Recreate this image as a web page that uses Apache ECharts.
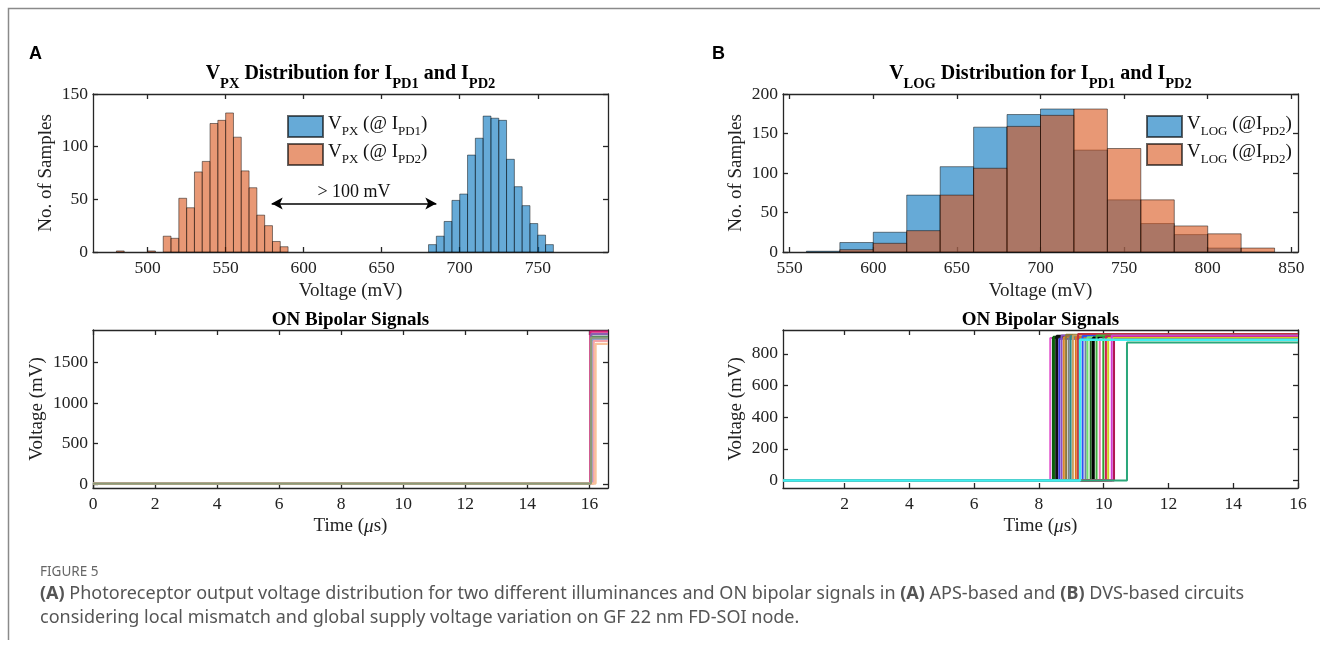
<!DOCTYPE html>
<html>
<head>
<meta charset="utf-8">
<title>Figure 5</title>
<script src="https://cdn.jsdelivr.net/npm/echarts@6/dist/echarts.min.js"></script>
<style>
  html, body { margin: 0; padding: 0; background: #fff; }
  #main { width: 1320px; height: 651px; }
</style>
</head>
<body>
<div id="main"></div>
<script>
// ---- A (top): V_PX histogram, 5 mV bins
var pxBinWidth = 5
var pxPd1Start = 680
var pxPd1Counts = [7, 15, 29, 49, 55, 92, 108, 129, 127, 125, 88, 62, 44, 27, 16, 7]
var pxPd2Start = 480
var pxPd2Counts = [1, 0, 0, 0, 1, 0, 15, 13, 51, 42, 76, 86, 122, 125, 132, 109, 77, 61, 35, 25, 10, 5]
var pxRange = [465, 795]
var pxTicks = [500, 550, 600, 650, 700, 750]
var pxCountTicks = [0, 50, 100, 150]
var gapArrow = [579.5, 685]
var gapLevel = 46

// ---- B (top): V_LOG histogram, 20 mV bins
var logBinWidth = 20
var logStart = 560
var logPd1Counts = [1, 12, 25, 72, 108, 158, 174, 181, 129, 66, 36, 22, 5, 0]
var logPd2Counts = [0, 3, 11, 27, 72, 106, 159, 173, 181, 131, 66, 33, 23, 5]
var logRange = [546, 854]
var logTicks = [550, 600, 650, 700, 750, 800, 850]
var logCountTicks = [0, 50, 100, 150, 200]

// ---- A (bottom): ON bipolar signals, APS
var apsTimeRange = [0, 16.6]
var apsVoltRange = [-45, 1900]
var apsLow = 10
var apsRise = [16.03, 16.06, 16.09, 16.11, 16.14, 16.2, 16.05]
var apsHigh = [1880, 1850, 1815, 1790, 1765, 1730, 1805]
var apsTimeTicks = [0, 2, 4, 6, 8, 10, 12, 14, 16]
var apsVoltTicks = [0, 500, 1000, 1500]

// ---- B (bottom): ON bipolar signals, DVS
var dvsTimeRange = [0.1, 16]
var dvsVoltRange = [-47, 950]
var dvsLow = 0
var dvsRise = [8.35, 8.45, 8.55, 8.63, 8.70, 8.77, 8.84, 8.92, 8.98, 9.05, 9.14, 9.21, 9.35, 9.44, 9.50, 9.60, 9.68, 9.78, 9.88, 9.99, 10.07, 10.14, 10.25, 10.32, 10.72, 9.27]
var dvsHigh = [900, 905, 910, 895, 915, 905, 920, 900, 910, 915, 905, 925, 912, 898, 905, 890, 900, 915, 895, 905, 910, 900, 915, 890, 871, 888]
var dvsTimeTicks = [2, 4, 6, 8, 10, 12, 14, 16]
var dvsVoltTicks = [0, 200, 400, 600, 800]

// styles
var serif = 'Liberation Serif'
var ink = '#262626'
var blueFill = 'rgba(0,114,189,0.6)'
var orangeFill = 'rgba(217,83,25,0.6)'
var apsColors = ['#d6207a', '#8a5fb0', '#2f7f4f', '#7f9fcf', '#f3a3a8', '#f8c29a', '#8c9b78']
var dvsColors = ['#e45fd0', '#0b5e0b', '#111111', '#3b3bd9', '#8a4fc0', '#d9892a', '#8c7a3a', '#7f7f7f',
  '#2a8c8c', '#c8a060', '#e07020', '#c03040', '#3050f0', '#7080a0', '#70e070', '#206020', '#000000',
  '#40b040', '#f070b0', '#30a030', '#d02050', '#d0d020', '#d040d0', '#b01850', '#2aa77a', '#40f0f0']
var dvsWidths = [2, 3, 3, 2, 2, 2, 2, 2, 2, 2, 2, 2, 2, 2, 2, 2, 3, 2, 2, 2, 2, 2, 2, 2, 2, 2.5]

var chart = echarts.init(document.getElementById('main'))

function histData(start, width, counts) {
  var out = []
  counts.forEach(function (c, i) {
    out.push([start + i * width, start + (i + 1) * width, c])
  })
  return out
}

function renderBar(params, api) {
  if (api.value(2) <= 0) return null
  var p0 = api.coord([api.value(0), api.value(2)])
  var p1 = api.coord([api.value(1), 0])
  return {
    type: 'rect',
    shape: { x: p0[0], y: p0[1], width: p1[0] - p0[0], height: p1[1] - p0[1] },
    style: api.style()
  }
}

function histSeries(name, g, start, width, counts, fill) {
  return {
    name: name, type: 'custom', xAxisIndex: 2 * g, yAxisIndex: 2 * g,
    renderItem: renderBar,
    itemStyle: { color: fill, borderColor: 'rgba(0,0,0,0.6)', borderWidth: 0.8 },
    encode: { x: [0, 1], y: 2 },
    data: histData(start, width, counts)
  }
}

function stepSeries(g, range, low, rise, high, color, width) {
  return {
    type: 'line', xAxisIndex: 2 * g, yAxisIndex: 2 * g, silent: true,
    symbol: 'none', showSymbol: false,
    lineStyle: { color: color, width: width },
    data: [[range[0], low], [rise, low], [rise, high], [range[1], high]]
  }
}

var nameRich = {
  n: { fontFamily: serif, fontSize: 19, color: '#222' },
  i: { fontFamily: serif, fontSize: 19, fontStyle: 'italic', color: '#222' }
}

function axisPair(dim, g, range, ticks, name, nameGap) {
  var line = { show: true, onZero: false, lineStyle: { color: ink, width: 1.3 } }
  var tick = { show: true, inside: true, length: 5, customValues: ticks, lineStyle: { color: ink, width: 1.3 } }
  var main = {
    type: 'value', gridIndex: g, min: range[0], max: range[1],
    position: dim === 'x' ? 'bottom' : 'left',
    axisLine: line, axisTick: tick,
    axisLabel: {
      customValues: ticks, color: '#222', fontFamily: serif, fontSize: 17.5, margin: dim === 'x' ? 7 : 5,
      formatter: function (v) { return String(v) }
    },
    splitLine: { show: false },
    name: name, nameLocation: 'middle', nameGap: nameGap,
    nameTextStyle: { color: '#222', fontFamily: serif, fontSize: 19, rich: nameRich }
  }
  var twin = {
    type: 'value', gridIndex: g, min: range[0], max: range[1],
    position: dim === 'x' ? 'top' : 'right',
    axisLine: line, axisTick: tick,
    axisLabel: { show: false }, splitLine: { show: false }
  }
  return [main, twin]
}

var xAxes = [].concat(
  axisPair('x', 0, pxRange, pxTicks, 'Voltage (mV)', 30),
  axisPair('x', 1, logRange, logTicks, 'Voltage (mV)', 30),
  axisPair('x', 2, apsTimeRange, apsTimeTicks, '{n|Time (}{i|μ}{n|s)}', 29),
  axisPair('x', 3, dvsTimeRange, dvsTimeTicks, '{n|Time (}{i|μ}{n|s)}', 29)
)
var yAxes = [].concat(
  axisPair('y', 0, [0, 150], pxCountTicks, 'No. of Samples', 37),
  axisPair('y', 1, [0, 200], logCountTicks, 'No. of Samples', 37),
  axisPair('y', 2, apsVoltRange, apsVoltTicks, 'Voltage (mV)', 46),
  axisPair('y', 3, dvsVoltRange, dvsVoltTicks, 'Voltage (mV)', 37)
)

var series = [
  histSeries('pxPd1', 0, pxPd1Start, pxBinWidth, pxPd1Counts, blueFill),
  histSeries('pxPd2', 0, pxPd2Start, pxBinWidth, pxPd2Counts, orangeFill),
  {
    type: 'line', xAxisIndex: 0, yAxisIndex: 0, data: [], silent: true,
    markLine: {
      silent: true, symbol: ['arrow', 'arrow'], symbolSize: [9, 11],
      lineStyle: { color: '#000', width: 1.6, type: 'solid' },
      label: { show: true, position: 'middle', formatter: '> 100 mV', color: '#111', fontFamily: serif, fontSize: 18, distance: 2 },
      data: [[{ coord: [gapArrow[0], gapLevel] }, { coord: [gapArrow[1], gapLevel] }]]
    }
  },
  histSeries('logPd1', 1, logStart, logBinWidth, logPd1Counts, blueFill),
  histSeries('logPd2', 1, logStart, logBinWidth, logPd2Counts, orangeFill)
]
apsRise.forEach(function (t, i) {
  series.push(stepSeries(2, apsTimeRange, apsLow, t, apsHigh[i], apsColors[i], 2.2))
})
dvsRise.forEach(function (t, i) {
  series.push(stepSeries(3, dvsTimeRange, dvsLow, t, dvsHigh[i], dvsColors[i], dvsWidths[i]))
})

var legendRich = {
  m: { fontFamily: serif, fontSize: 19, color: '#111', lineHeight: 24, verticalAlign: 'top' },
  s: { fontFamily: serif, fontSize: 13, color: '#111', lineHeight: 8, verticalAlign: 'bottom' }
}
var legendText = {
  pxPd1: '{m|V}{s|PX}{m| (@ I}{s|PD1}{m|)}',
  pxPd2: '{m|V}{s|PX}{m| (@ I}{s|PD2}{m|)}',
  logPd1: '{m|V}{s|LOG}{m| (@I}{s|PD2}{m|)}',
  logPd2: '{m|V}{s|LOG}{m| (@I}{s|PD2}{m|)}'
}
function legendAt(left, names) {
  return {
    left: left, top: 114.5, orient: 'vertical', padding: 0,
    itemWidth: 35, itemHeight: 21, itemGap: 4, icon: 'rect', selectedMode: false,
    data: names,
    formatter: function (n) { return legendText[n] },
    textStyle: { fontFamily: serif, fontSize: 19, color: '#111', rich: legendRich }
  }
}

var titleRich = {
  m: { fontFamily: serif, fontSize: 20, fontWeight: 'bold', fill: '#000', lineHeight: 28, verticalAlign: 'top' },
  s: { fontFamily: serif, fontSize: 14.5, fontWeight: 'bold', fill: '#000', lineHeight: 4, verticalAlign: 'bottom' }
}
var capRich = { b: { fontFamily: 'Noto Sans', fontSize: 18, fontWeight: 'bold', fill: '#555' } }

var graphics = [
  { type: 'polyline', silent: true, shape: { points: [[8.5, 640], [8.5, 8.5], [1320, 8.5]] }, style: { stroke: '#8a8a8a', lineWidth: 1.5, fill: null } },
  { type: 'text', x: 29, y: 54, style: { text: 'A', font: 'bold 18px "Liberation Sans"', fill: '#000', verticalAlign: 'middle' } },
  { type: 'text', x: 712, y: 54, style: { text: 'B', font: 'bold 18px "Liberation Sans"', fill: '#000', verticalAlign: 'middle' } },
  { type: 'text', x: 350.5, y: 63.5, style: { text: '{m|V}{s|PX}{m| Distribution for I}{s|PD1}{m| and I}{s|PD2}', rich: titleRich, align: 'center', verticalAlign: 'top' } },
  { type: 'text', x: 1040.5, y: 63.5, style: { text: '{m|V}{s|LOG}{m| Distribution for I}{s|PD1}{m| and I}{s|PD2}', rich: titleRich, align: 'center', verticalAlign: 'top' } },
  { type: 'text', x: 350.5, y: 320, style: { text: 'ON Bipolar Signals', font: 'bold 19px "Liberation Serif"', fill: '#000', align: 'center', verticalAlign: 'middle' } },
  { type: 'text', x: 1040.5, y: 320, style: { text: 'ON Bipolar Signals', font: 'bold 19px "Liberation Serif"', fill: '#000', align: 'center', verticalAlign: 'middle' } },
  { type: 'text', x: 40, y: 572, style: { text: 'FIGURE 5', font: '13.5px "Noto Sans"', fill: '#666', verticalAlign: 'middle' } },
  { type: 'text', x: 40, y: 594, style: {
    text: '{b|(A)} Photoreceptor output voltage distribution for two different illuminances and ON bipolar signals in {b|(A)} APS-based and {b|(B)} DVS-based circuits',
    font: '18px "Noto Sans"', fill: '#555', rich: capRich, verticalAlign: 'middle' } },
  { type: 'text', x: 40, y: 618, style: {
    text: 'considering local mismatch and global supply voltage variation on GF 22 nm FD-SOI node.',
    font: '18px "Noto Sans"', fill: '#555', verticalAlign: 'middle' } }
]

chart.setOption({
  animation: false,
  backgroundColor: '#fff',
  textStyle: { fontFamily: serif },
  grid: [
    { left: 93, top: 94, width: 515, height: 158 },
    { left: 783, top: 94, width: 515, height: 158 },
    { left: 93, top: 330, width: 515, height: 158 },
    { left: 783, top: 330, width: 515, height: 158 }
  ],
  legend: [legendAt(287, ['pxPd1', 'pxPd2']), legendAt(1146, ['logPd1', 'logPd2'])],
  xAxis: xAxes,
  yAxis: yAxes,
  series: series,
  graphic: graphics
})
</script>
</body>
</html>
